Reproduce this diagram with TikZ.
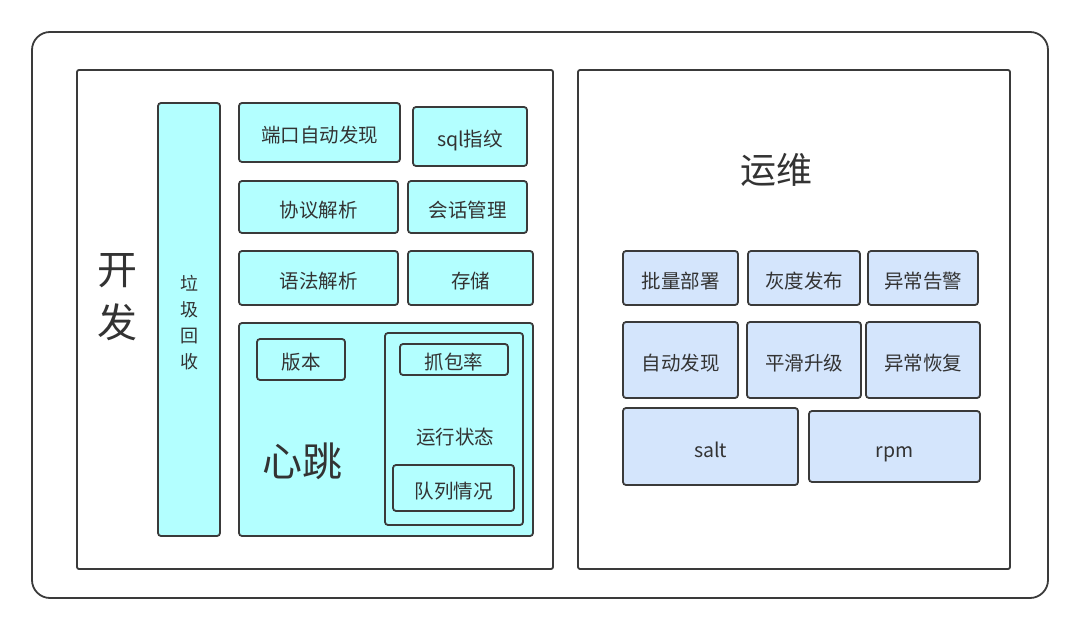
\documentclass[tikz,border=0pt]{standalone}
\usepackage{fontspec}
\setmainfont{Noto Sans CJK SC}
\usepackage{xcolor}
\usepackage{tikz}
\usetikzlibrary{positioning}

\definecolor{devfill}{HTML}{B3FFFF}
\definecolor{opsfill}{HTML}{D4E5FC}
\definecolor{edge}{HTML}{3A3A3A}
\definecolor{ink}{HTML}{333333}

\begin{document}
\begin{tikzpicture}[x=1pt,y=-1pt,
    frame/.style={draw=edge,line width=1.8pt},
    devbox/.style={draw=edge,line width=1.8pt,fill=devfill,rounded corners=3pt,text=ink,
        font=\fontsize{19.5}{22}\selectfont,inner sep=0pt,text height=23pt,text depth=2pt},
    opsbox/.style={draw=edge,line width=1.8pt,fill=opsfill,rounded corners=3pt,text=ink,
        font=\fontsize{19.5}{22}\selectfont,inner sep=0pt,text height=23pt,text depth=2pt}]
    \useasboundingbox (0,0) rectangle (1080,631);

    % outer frame and two halves
    \node[frame,rounded corners=18pt,minimum width=1016,minimum height=566] (all) at (540,315) {};
    \node[frame,rounded corners=2pt,minimum width=476,minimum height=499] (dev) at (315,319.5) {};
    \node[frame,rounded corners=2pt,minimum width=432,minimum height=499] (ops) at (794,319.5) {};

    % development side
    \node[text=ink,font=\fontsize{40}{53}\selectfont,align=center] (devtitle) at (117,297) {开\\发};
    \node[draw=edge,line width=1.8pt,fill=devfill,rounded corners=3pt,inner sep=0pt,
        minimum width=62,minimum height=433] (gc) at (189,319.5) {};
    \node[text=ink,align=center,font=\fontsize{18}{26}\selectfont] (gclabel) at (189,323) {垃\\圾\\回\\收};

    \node[devbox,minimum width=161,minimum height=59] (portscan) at (319.5,132.5) {端口自动发现};
    \node[devbox,minimum width=114,minimum height=59] (sqlfp) at (470,136.5) {sql指纹};
    \node[devbox,minimum width=159,minimum height=52] (proto) at (318.5,207) {协议解析};
    \node[devbox,minimum width=119,minimum height=52] (session) at (467.5,207) {会话管理};
    \node[devbox,minimum width=159,minimum height=54] (syntax) at (318.5,278) {语法解析};
    \node[devbox,minimum width=125,minimum height=54] (store) at (470.5,278) {存储};

    \node[devbox,minimum width=294,minimum height=213] (heartbeat) at (386,429.5) {};
    \node[devbox,minimum width=88,minimum height=41] (version) at (301,359.5) {版本};
    \node[text=ink,font=\fontsize{40}{44}\selectfont] (hblabel) at (302,461) {心跳};
    \node[devbox,minimum width=138,minimum height=192] (runstate) at (454,429) {};
    \node[text=ink,font=\fontsize{19.5}{22}\selectfont,text height=23pt,text depth=2pt] (rslabel) at (455,434) {运行状态};
    \node[devbox,minimum width=108,minimum height=31] (capture) at (454,359.5) {抓包率};
    \node[devbox,minimum width=121,minimum height=46] (queue) at (453.5,488) {队列情况};

    % operations side
    \node[text=ink,font=\fontsize{36}{40}\selectfont] (opstitle) at (776,170) {运维};

    \node[opsbox,minimum width=115,minimum height=54] (batch) at (680.5,278) {批量部署};
    \node[opsbox,minimum width=112,minimum height=54] (gray) at (804,278) {灰度发布};
    \node[opsbox,minimum width=110,minimum height=54] (alarm) at (923,278) {异常告警};
    \node[opsbox,minimum width=115,minimum height=76] (discover) at (680.5,360) {自动发现};
    \node[opsbox,minimum width=114,minimum height=76] (upgrade) at (804,360) {平滑升级};
    \node[opsbox,minimum width=114,minimum height=76] (recover) at (923,360) {异常恢复};
    \node[opsbox,minimum width=175,minimum height=77] (salt) at (710.5,446.5) {salt};
    \node[opsbox,minimum width=171,minimum height=71] (rpm) at (894.5,446.5) {rpm};
\end{tikzpicture}
\end{document}
